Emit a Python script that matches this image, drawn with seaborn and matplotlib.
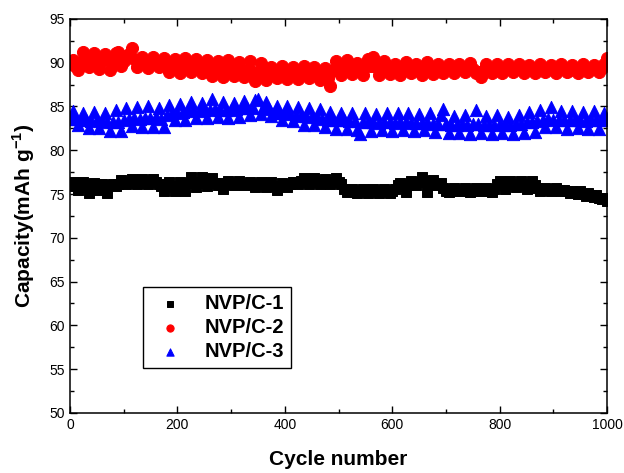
import numpy as np
import pandas as pd
import matplotlib
matplotlib.use('Agg')
import matplotlib.pyplot as plt
import seaborn as sns
from matplotlib.ticker import MultipleLocator

# cycle number (every 5 cycles) and capacity
cycles = np.arange(0, 1001, 5)

cap_c1 = [
    76.0, 76.4, 75.9, 75.5, 76.2, 76.4, 75.8, 75.1, 76.0, 76.3,
    75.9, 75.5, 76.1, 75.9, 75.1, 76.0, 76.1, 75.9, 76.2, 76.6,
    76.4, 76.1, 76.4, 76.7, 76.3, 76.1, 76.5, 76.7, 76.3, 76.2,
    76.5, 76.7, 76.4, 76.1, 75.9, 75.3, 75.8, 76.4, 75.9, 75.4,
    75.8, 76.4, 76.0, 75.3, 76.3, 76.9, 76.4, 75.8, 76.3, 76.9,
    76.3, 75.9, 76.5, 76.8, 76.3, 76.0, 76.3, 75.6, 76.2, 76.5,
    76.2, 76.0, 76.3, 76.5, 76.2, 76.0, 76.2, 76.4, 76.0, 75.8,
    76.1, 76.4, 76.1, 75.8, 76.1, 76.4, 75.9, 75.5, 75.9, 76.3,
    76.0, 75.8, 76.1, 76.4, 76.4, 76.1, 76.5, 76.8, 76.4, 76.1,
    76.5, 76.8, 76.4, 76.2, 76.5, 76.7, 76.4, 76.1, 76.4, 76.8,
    76.4, 76.1, 75.6, 75.2, 75.4, 75.6, 75.3, 75.1, 75.4, 75.6,
    75.3, 75.1, 75.4, 75.6, 75.3, 75.1, 75.4, 75.6, 75.3, 75.1,
    75.4, 75.6, 76.0, 76.3, 75.9, 75.2, 76.0, 76.5, 76.2, 76.0,
    76.4, 76.9, 76.5, 75.2, 76.0, 76.6, 76.1, 76.0, 76.3, 75.7,
    75.4, 75.2, 75.5, 75.7, 75.4, 75.3, 75.5, 75.7, 75.4, 75.2,
    75.5, 75.7, 75.4, 75.3, 75.5, 75.7, 75.4, 75.2, 75.6, 76.1,
    76.5, 76.0, 75.6, 76.1, 76.5, 76.1, 75.8, 76.2, 76.5, 76.0,
    75.6, 76.1, 76.5, 76.0, 75.7, 75.4, 75.6, 75.7, 75.5, 75.4,
    75.6, 75.7, 75.5, 75.4, 75.5, 75.3, 75.1, 75.4, 75.2, 75.0,
    75.3, 75.0, 74.8, 75.1, 74.9, 74.7, 74.9, 74.6, 74.4, 74.6,
    74.2,
]

cap_c2 = [
    89.8, 90.3, 89.6, 89.2, 90.1, 91.2, 90.4, 89.5, 90.3, 91.1,
    90.3, 89.3, 90.2, 91.0, 90.4, 89.2, 90.1, 91.1, 91.2, 89.6,
    90.2, 90.8, 91.0, 91.7, 90.4, 89.5, 90.1, 90.7, 90.0, 89.4,
    90.0, 90.6, 90.1, 89.5, 90.0, 90.5, 89.8, 88.9, 89.7, 90.4,
    89.7, 88.8, 89.6, 90.5, 89.7, 88.9, 89.6, 90.4, 89.6, 88.8,
    89.5, 90.3, 89.4, 88.5, 89.3, 90.2, 89.3, 88.4, 89.3, 90.3,
    89.4, 88.5, 89.3, 90.1, 89.2, 88.4, 89.0, 90.2, 88.9, 87.9,
    88.9, 90.0, 88.8, 88.0, 88.8, 89.5, 88.8, 88.2, 88.9, 89.6,
    88.8, 88.1, 88.9, 89.5, 88.8, 88.1, 88.8, 89.6, 88.8, 88.2,
    88.8, 89.5, 88.7, 88.0, 88.7, 89.4, 88.3, 87.3, 89.2, 90.2,
    89.3, 88.6, 89.4, 90.3, 89.4, 88.7, 89.4, 90.0, 89.3, 88.6,
    89.5, 90.4, 89.6, 90.7, 89.5, 88.6, 89.4, 90.2, 89.4, 88.7,
    89.3, 89.9, 89.2, 88.6, 89.3, 90.1, 89.4, 88.8, 89.3, 89.9,
    89.2, 88.6, 89.3, 90.1, 89.3, 88.7, 89.3, 89.9, 89.3, 88.8,
    89.3, 89.9, 89.3, 88.8, 89.3, 89.8, 89.3, 88.9, 89.4, 90.0,
    89.3, 88.8, 88.9, 88.4, 89.2, 89.8, 89.3, 88.8, 89.3, 89.9,
    89.3, 88.8, 89.3, 89.8, 89.3, 88.9, 89.3, 89.9, 89.3, 88.8,
    89.3, 89.7, 89.2, 88.8, 89.3, 89.8, 89.3, 88.9, 89.3, 89.7,
    89.2, 88.8, 89.3, 89.8, 89.3, 88.9, 89.2, 89.7, 89.3, 88.8,
    89.3, 89.8, 89.3, 88.9, 89.3, 89.7, 89.3, 88.9, 89.4, 89.9,
    90.5,
]

cap_c3 = [
    83.6, 84.5, 83.6, 82.9, 83.5, 84.2, 83.4, 82.5, 83.3, 84.4,
    83.4, 82.5, 83.3, 84.3, 83.2, 82.2, 83.2, 84.6, 83.2, 82.2,
    83.5, 84.8, 83.6, 82.8, 83.7, 84.9, 83.6, 82.6, 83.7, 85.0,
    83.7, 82.6, 83.8, 84.8, 83.6, 82.6, 84.0, 85.2, 84.2, 83.4,
    84.3, 85.3, 84.4, 83.5, 84.5, 85.5, 84.6, 83.7, 84.5, 85.4,
    84.6, 83.7, 84.6, 85.9, 84.7, 83.8, 84.6, 85.5, 84.6, 83.7,
    84.6, 85.4, 84.7, 83.8, 84.8, 85.6, 84.8, 84.0, 84.8, 85.7,
    85.9, 84.1, 84.8, 85.5, 84.7, 83.9, 84.3, 85.1, 84.2, 83.4,
    84.2, 85.0, 84.1, 83.3, 84.0, 84.9, 83.9, 82.9, 83.9, 84.8,
    83.8, 82.9, 83.8, 84.7, 83.6, 82.7, 83.5, 84.4, 83.4, 82.4,
    83.4, 84.3, 83.4, 82.4, 83.3, 84.2, 83.3, 82.3, 81.9, 83.2,
    84.3, 83.2, 82.2, 83.2, 84.1, 83.1, 82.3, 83.2, 84.2, 83.2,
    82.2, 83.1, 84.2, 83.2, 82.3, 83.2, 84.3, 83.1, 82.2, 83.1,
    84.1, 83.1, 82.3, 83.2, 84.2, 83.0, 82.1, 83.0, 84.0, 84.7,
    83.0, 82.0, 82.9, 83.9, 82.9, 82.0, 83.0, 84.0, 82.9, 81.9,
    83.0, 84.6, 83.0, 82.0, 82.9, 83.9, 82.9, 81.9, 82.9, 84.0,
    83.0, 82.0, 82.9, 83.8, 82.9, 81.9, 83.0, 84.0, 83.0, 82.0,
    83.2, 84.4, 83.2, 82.1, 83.3, 84.6, 83.4, 82.7, 83.6, 84.9,
    83.5, 82.6, 83.5, 84.5, 83.4, 82.4, 83.4, 84.5, 83.4, 82.5,
    83.4, 84.4, 83.3, 82.4, 83.4, 84.5, 83.4, 82.4, 83.4, 84.3,
    83.4,
]

labels = ['NVP/C-1', 'NVP/C-2', 'NVP/C-3']

df = pd.DataFrame({
    'Cycle': np.tile(cycles, 3),
    'Capacity': np.concatenate([cap_c1, cap_c2, cap_c3]),
    'Sample': np.repeat(labels, len(cycles)),
})

sns.set_style('ticks')
plt.rcParams['font.family'] = ['Liberation Sans', 'DejaVu Sans']
plt.rcParams['mathtext.fontset'] = 'custom'
plt.rcParams['mathtext.rm'] = 'Liberation Sans'
plt.rcParams['mathtext.bf'] = 'Liberation Sans:bold'
for k in ['text.color', 'axes.labelcolor', 'xtick.color', 'ytick.color', 'axes.edgecolor']:
    plt.rcParams[k] = 'black'

fig = plt.figure(figsize=(6.24, 4.73), dpi=100)
ax = fig.add_axes([0.112, 0.127, 0.861, 0.833])

# marker, warna, luas marker
gaya = {'NVP/C-1': ('s', 'black', 58), 'NVP/C-2': ('o', 'red', 76), 'NVP/C-3': ('^', 'blue', 78)}
for lab in labels:
    m, c, s = gaya[lab]
    sns.scatterplot(data=df[df['Sample'] == lab], x='Cycle', y='Capacity',
                    marker=m, color=c, s=s, edgecolor=c, linewidth=0.7, ax=ax, label=lab)

ax.set_xlim(0, 1000)
ax.set_ylim(50, 95)
ax.xaxis.set_major_locator(MultipleLocator(200))
ax.xaxis.set_minor_locator(MultipleLocator(100))
ax.yaxis.set_major_locator(MultipleLocator(5))
ax.yaxis.set_minor_locator(MultipleLocator(2.5))
ax.tick_params(which='both', direction='in', top=True, right=True, width=1, labelsize=10)
ax.tick_params(which='major', length=5)
ax.tick_params(which='minor', length=3)
for sp in ax.spines.values():
    sp.set_linewidth(1.1)
    sp.set_color('black')

ax.set_xlabel('Cycle number', fontsize=15, fontweight='bold', labelpad=13)
ax.set_ylabel(r'Capacity(mAh g$^{\mathbf{-1}}$)', fontsize=15, fontweight='bold', labelpad=9)

leg = ax.legend(loc='lower left', bbox_to_anchor=(0.136, 0.114), borderaxespad=0,
                frameon=True, fancybox=False, edgecolor='black', framealpha=1,
                prop={'weight': 'bold', 'size': 14.5}, markerscale=0.6,
                handlelength=2.0, handletextpad=0.7, labelspacing=0.25, borderpad=0.35)
leg.get_frame().set_linewidth(1.0)

fig.savefig('out.png', dpi=100)
plt.close(fig)
